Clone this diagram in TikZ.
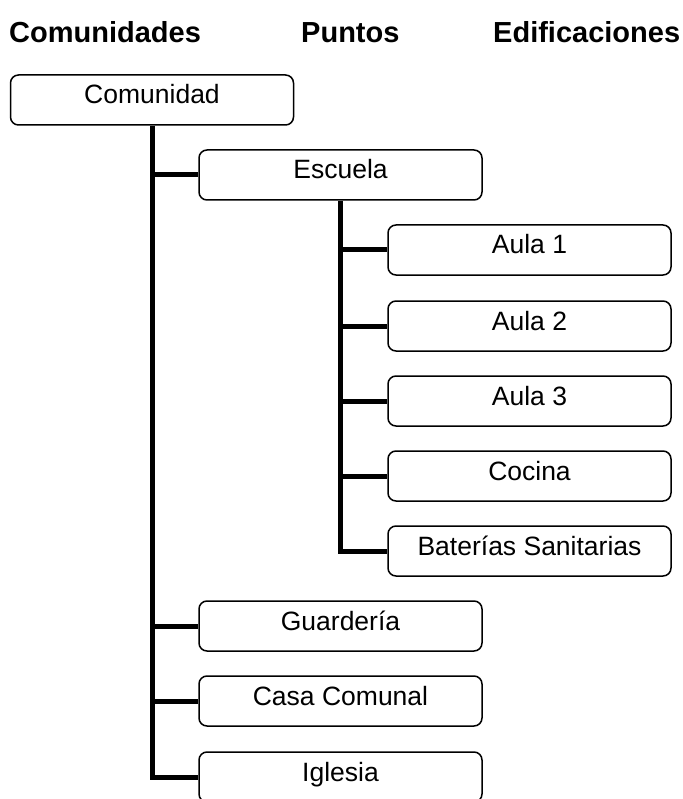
\documentclass[tikz,border=0pt]{standalone}
\usepackage{fontspec}
\setmainfont{Liberation Sans}
\usetikzlibrary{calc}
\begin{document}
\begin{tikzpicture}[x=1pt,y=-1pt,block/.style ={rectangle, draw=black, line width=1.5pt, fill=white, minimum width=283pt, minimum height=50pt, rounded corners=8pt, inner sep=0pt, text height=19pt, text depth=11pt, font=\fontsize{26.5}{30}\selectfont}, titulo/.style={anchor=base west, inner sep=0pt, font=\bfseries\fontsize{29}{33}\selectfont}, rama/.style={line width=5pt}]
\useasboundingbox (0,0) rectangle (682,799);
\draw (9,43) node[titulo] (TC) {Comunidades};
\draw (301,43) node[titulo] (TP) {Puntos};
\draw (493,43) node[titulo] (TE) {Edificaciones};
\draw (152,100) node[block] (C) {Comunidad};
\draw (340.5,175) node[block] (E) {Escuela};
\draw (529.5,250) node[block] (A1) {Aula 1};
\draw (529.5,326) node[block] (A2) {Aula 2};
\draw (529.5,401) node[block] (A3) {Aula 3};
\draw (529.5,476) node[block] (K) {Cocina};
\draw (529.5,551) node[block] (S) {Baterías Sanitarias};
\draw (340.5,626) node[block] (G) {Guardería};
\draw (340.5,701) node[block] (H) {Casa Comunal};
\draw (340.5,777) node[block] (I) {Iglesia};
\draw[rama] (C.south) |- (I.west);
\foreach \n in {E,G,H} \draw[rama] (C.south |- \n.west) -- (\n.west);
\draw[rama] (E.south) |- (S.west);
\foreach \n in {A1,A2,A3,K} \draw[rama] (E.south |- \n.west) -- (\n.west);
\end{tikzpicture}
\end{document}
